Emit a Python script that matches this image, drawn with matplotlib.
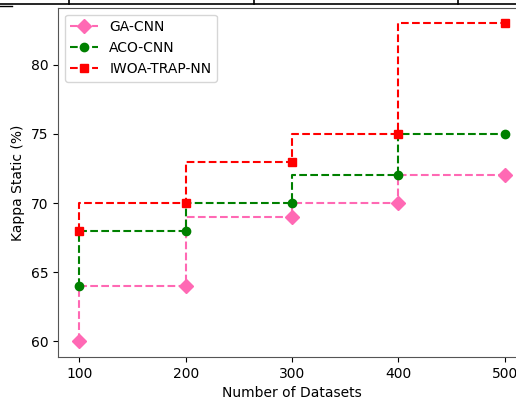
import numpy as np
import matplotlib
matplotlib.use("Agg")
import matplotlib.pyplot as plt
from matplotlib.lines import Line2D

datasets = [100, 200, 300, 400, 500]
ga_cnn = [60, 64, 69, 70, 72]
aco_cnn = [64, 68, 70, 72, 75]
iwoa_trap_nn = [68, 70, 73, 75, 83]

fig = plt.figure(figsize=(5.16, 3.99), dpi=100)
# axes run off the right edge like in the cropped screenshot
ax = fig.add_axes([0.1124, 0.105, 0.907, 0.876])

ax.plot(datasets, ga_cnn, drawstyle="steps-pre", linestyle="--", color="hotpink",
        marker="D", markersize=7, label="GA-CNN")
ax.plot(datasets, aco_cnn, drawstyle="steps-pre", linestyle="--", color="green",
        marker="o", markersize=6, label="ACO-CNN")
ax.plot(datasets, iwoa_trap_nn, drawstyle="steps-pre", linestyle="--", color="red",
        marker="s", markersize=6, label="IWOA-TRAP-NN")

ax.set_xticks(datasets)
ax.set_yticks([60, 65, 70, 75, 80])
ax.set_xlabel("Number of Datasets")
ax.set_ylabel("Kappa Static (%)")
ax.legend(loc="upper left")
for s in ax.spines.values():
    s.set_color("#555555")

# bits of the surrounding document table at the top
fig.add_artist(Line2D([0, 1], [1 - 4 / 399, 1 - 4 / 399], color="black", lw=1.2))
fig.add_artist(Line2D([0, 12 / 516], [1 - 5.5 / 399, 1 - 5.5 / 399], color="black", lw=1.0))
for px in [69, 254, 458]:
    fig.add_artist(Line2D([px / 516, px / 516], [1 - 4 / 399, 1], color="black", lw=1.2))

fig.savefig("out.png", dpi=100)
